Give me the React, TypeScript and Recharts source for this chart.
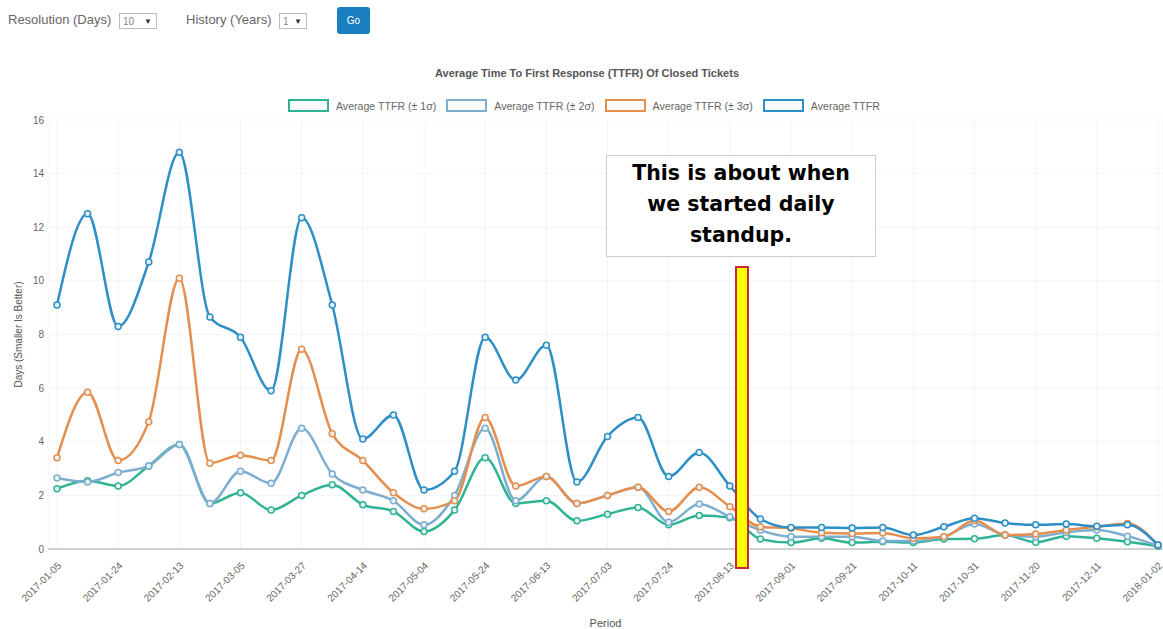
import { LineChart, Line, XAxis, YAxis, CartesianGrid } from 'recharts'

const periods = [
  '2017-01-05', '2017-01-15', '2017-01-24', '2017-02-03', '2017-02-13', '2017-02-23',
  '2017-03-05', '2017-03-15', '2017-03-27', '2017-04-05', '2017-04-14', '2017-04-24',
  '2017-05-04', '2017-05-14', '2017-05-24', '2017-06-03', '2017-06-13', '2017-06-23',
  '2017-07-03', '2017-07-13', '2017-07-24', '2017-08-03', '2017-08-13', '2017-08-23',
  '2017-09-01', '2017-09-11', '2017-09-21', '2017-10-01', '2017-10-11', '2017-10-21',
  '2017-10-31', '2017-11-10', '2017-11-20', '2017-11-30', '2017-12-11', '2017-12-21',
  '2018-01-02',
]

const avgTtfr = [
  9.1, 12.5, 8.3, 10.7, 14.8, 8.65, 7.9, 5.9, 12.35, 9.1, 4.1, 5.0, 2.2, 2.9, 7.9, 6.3, 7.6, 2.5,
  4.2, 4.9, 2.7, 3.6, 2.35, 1.12, 0.8, 0.8, 0.78, 0.8, 0.52, 0.83, 1.15, 0.97, 0.9, 0.93, 0.85,
  0.9, 0.15,
]
const ttfr3s = [
  3.4, 5.85, 3.3, 4.75, 10.1, 3.2, 3.5, 3.3, 7.45, 4.3, 3.3, 2.1, 1.5, 1.8, 4.9, 2.35, 2.7, 1.7,
  2.0, 2.3, 1.4, 2.3, 1.58, 0.83, 0.77, 0.61, 0.58, 0.6, 0.4, 0.46, 1.06, 0.52, 0.56, 0.71, 0.83,
  0.95, 0.15,
]
const ttfr2s = [
  2.65, 2.5, 2.85, 3.1, 3.9, 1.7, 2.9, 2.45, 4.5, 2.8, 2.2, 1.8, 0.9, 2.0, 4.5, 1.8, 2.7, 1.7,
  2.0, 2.3, 1.0, 1.68, 1.2, 0.7, 0.46, 0.46, 0.46, 0.3, 0.3, 0.46, 0.93, 0.53, 0.46, 0.62, 0.71,
  0.48, 0.12,
]
const ttfr1s = [
  2.25, 2.55, 2.35, 3.1, 3.9, 1.7, 2.1, 1.45, 2.0, 2.4, 1.65, 1.4, 0.65, 1.45, 3.4, 1.7, 1.8, 1.05,
  1.3, 1.55, 0.9, 1.25, 1.17, 0.37, 0.24, 0.4, 0.24, 0.27, 0.24, 0.37, 0.38, 0.52, 0.25, 0.48, 0.4,
  0.27, 0.1,
]

const yTicks = [0, 2, 4, 6, 8, 10, 12, 14, 16]

const series = [
  { key: 'ttfr1s', name: 'Average TTFR (± 1σ)', color: '#30b393' },
  { key: 'ttfr2s', name: 'Average TTFR (± 2σ)', color: '#7eaecf' },
  { key: 'ttfr3s', name: 'Average TTFR (± 3σ)', color: '#e58e4d' },
  { key: 'avg', name: 'Average TTFR', color: '#2c8fc6' },
]

const data = periods.map((p, i) => ({
  period: p,
  avg: avgTtfr[i],
  ttfr3s: ttfr3s[i],
  ttfr2s: ttfr2s[i],
  ttfr1s: ttfr1s[i],
}))

const font = '"Liberation Sans", Arial, sans-serif'

function DateTick(props: any) {
  const { x, y, payload } = props
  return (
    <g transform={`translate(${x},${y})`}>
      <text
        x={-3}
        y={0}
        dy={10}
        textAnchor="end"
        transform="rotate(-45)"
        fill="#666"
        fontSize={10}
        fontFamily={font}
      >
        {payload.value}
      </text>
    </g>
  )
}

function SelectBox({ value, width }: { value: string; width: number }) {
  return (
    <span
      style={{
        display: 'inline-block',
        width,
        height: 16,
        border: '1px solid #bbb',
        fontSize: 10,
        color: '#888',
        lineHeight: '16px',
        paddingLeft: 3,
        boxSizing: 'border-box',
        position: 'relative',
        verticalAlign: 'middle',
      }}
    >
      {value}
      <span style={{ position: 'absolute', right: 4, top: 0, fontSize: 8, color: '#333' }}>▼</span>
    </span>
  )
}

export default function App() {
  return (
    <div
      style={{
        position: 'absolute',
        left: 0,
        top: 0,
        width: 1163,
        height: 629,
        background: '#fff',
        overflow: 'hidden',
        fontFamily: font,
      }}
    >
      {/* form controls */}
      <div style={{ position: 'absolute', left: 8, top: 12, fontSize: 13, color: '#666' }}>
        Resolution (Days)
      </div>
      <div style={{ position: 'absolute', left: 119, top: 11 }}>
        <SelectBox value="10" width={38} />
      </div>
      <div style={{ position: 'absolute', left: 186, top: 12, fontSize: 13, color: '#666' }}>
        History (Years)
      </div>
      <div style={{ position: 'absolute', left: 279, top: 11 }}>
        <SelectBox value="1" width={28} />
      </div>
      <div
        style={{
          position: 'absolute',
          left: 337,
          top: 7,
          width: 33,
          height: 27,
          background: '#1a7fc1',
          borderRadius: 3,
          color: '#fff',
          fontSize: 10,
          lineHeight: '27px',
          textAlign: 'center',
        }}
      >
        Go
      </div>

      {/* title + legend */}
      <div
        style={{
          position: 'absolute',
          left: 0,
          top: 67,
          width: 1174,
          textAlign: 'center',
          fontSize: 11,
          fontWeight: 'bold',
          color: '#555',
        }}
      >
        Average Time To First Response (TTFR) Of Closed Tickets
      </div>
      <div
        style={{
          position: 'absolute',
          left: 288,
          top: 99,
          display: 'flex',
          alignItems: 'center',
          fontSize: 10.6,
          color: '#666',
        }}
      >
        {series.map((s) => (
          <div key={s.key} style={{ display: 'flex', alignItems: 'center', marginRight: 10 }}>
            <span
              style={{
                display: 'inline-block',
                width: 37,
                height: 9,
                border: `2px solid ${s.color}`,
                background: '#fafafa',
                marginRight: 7,
              }}
            />
            {s.name}
          </div>
        ))}
      </div>

      <div style={{ position: 'absolute', left: 0, top: 0 }}>
        <LineChart
          width={1163}
          height={629}
          data={data}
          margin={{ top: 120, right: 0, bottom: 10, left: 0 }}
        >
          <CartesianGrid stroke="#f4f4f4" />
          <XAxis
            dataKey="period"
            interval={1}
            padding={{ left: 9, right: 5 }}
            height={70}
            tick={<DateTick />}
            tickLine={false}
            axisLine={{ stroke: '#aaa' }}
            label={{
              value: 'Period',
              position: 'insideBottom',
              offset: -8,
              fill: '#555',
              fontSize: 11,
              fontFamily: font,
            }}
          />
          <YAxis
            width={48}
            domain={[0, 16]}
            ticks={yTicks}
            axisLine={false}
            tickLine={false}
            tickSize={0}
            tickMargin={4}
            tick={{ fill: '#666', fontSize: 10, fontFamily: font }}
            label={{
              value: 'Days (Smaller Is Better)',
              angle: -90,
              position: 'center',
              dx: -6,
              fill: '#555',
              fontSize: 10,
              fontFamily: font,
            }}
          />
          {series.map((s) => (
            <Line
              key={s.key}
              type="monotone"
              dataKey={s.key}
              name={s.name}
              stroke={s.color}
              strokeWidth={2.5}
              dot={{ r: 3, fill: '#e8f2f8', stroke: s.color, strokeWidth: 1.5 }}
              isAnimationActive={false}
            />
          ))}
        </LineChart>
      </div>

      {/* annotation */}
      <div
        style={{
          position: 'absolute',
          left: 606,
          top: 155,
          width: 270,
          height: 102,
          border: '1px solid #ccc',
          background: '#fff',
          boxSizing: 'border-box',
          textAlign: 'center',
          fontFamily: '"DejaVu Sans", sans-serif',
          fontWeight: 'bold',
          fontSize: 20.5,
          lineHeight: '31px',
          paddingTop: 2,
          color: '#000',
        }}
      >
        This is about when
        <br />
        we started daily
        <br />
        standup.
      </div>
      <div
        style={{
          position: 'absolute',
          left: 735,
          top: 266,
          width: 14,
          height: 303,
          background: '#ffff00',
          border: '2px solid #c8283a',
          boxSizing: 'border-box',
        }}
      />
    </div>
  )
}
